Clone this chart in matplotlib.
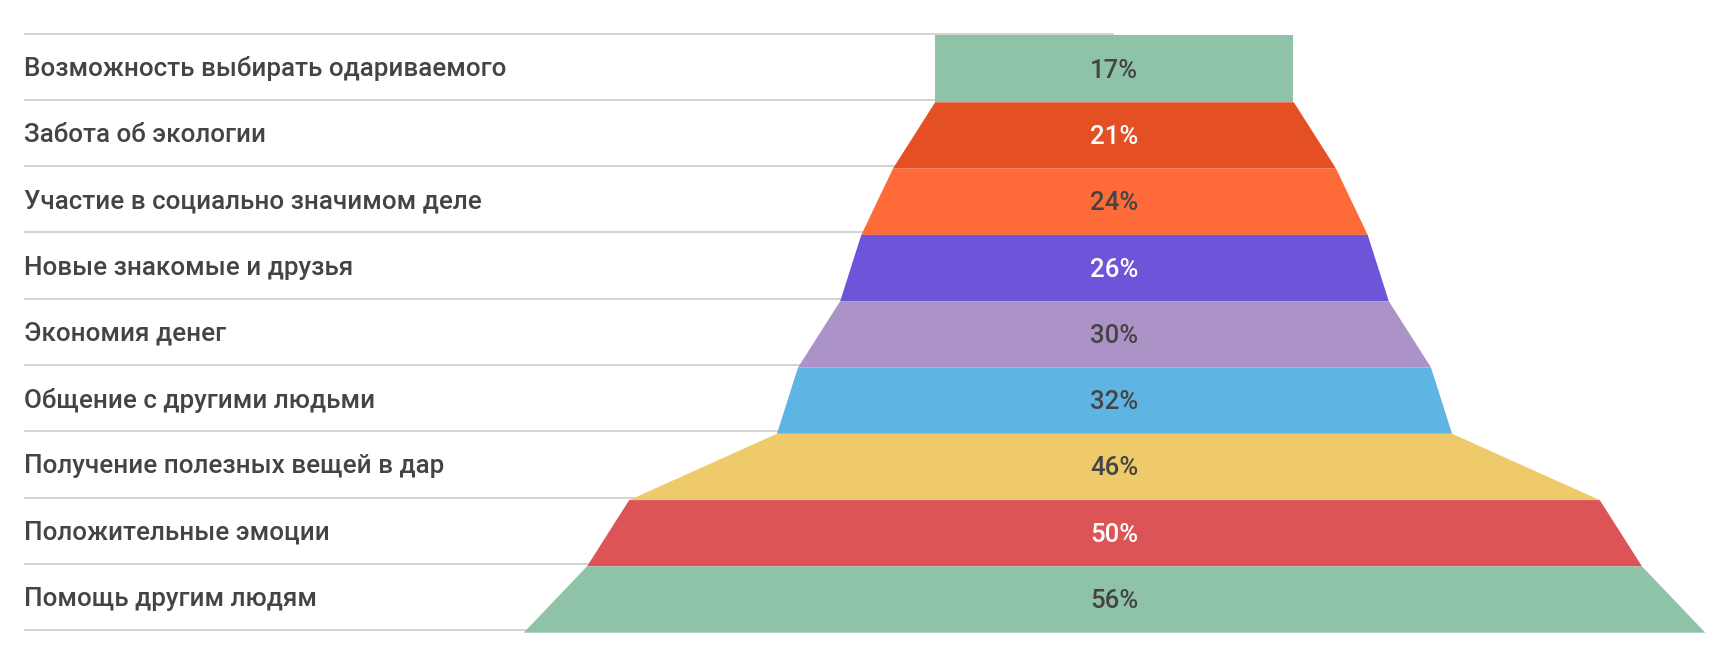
import matplotlib.pyplot as plt
import matplotlib.transforms as mtransforms

labels = [
    "Возможность выбирать одариваемого",
    "Забота об экологии",
    "Участие в социально значимом деле",
    "Новые знакомые и друзья",
    "Экономия денег",
    "Общение с другими людьми",
    "Получение полезных вещей в дар",
    "Положительные эмоции",
    "Помощь другим людям",
]
values = [17, 21, 24, 26, 30, 32, 46, 50, 56]
colors = ["#8fc3a8", "#e44f24", "#fe6b38", "#6e54d9", "#ab92c7",
          "#5eb5e3", "#efca6a", "#dc5456", "#8fc3a8"]
text_colors = ["#444444", "#ffffff", "#444444", "#ffffff", "#444444",
               "#444444", "#444444", "#ffffff", "#444444"]

plt.rcParams['font.family'] = ['Roboto', 'DejaVu Sans']

W, H = 1730, 664
px_per_pct = 21.1
center_px = 1114
row_px = 66.3
top_px = 33.5

fig = plt.figure(figsize=(W / 100, H / 100), dpi=100)
ax = fig.add_axes([0, 0, 1, 1])
ax.set_xlim(-center_px / px_per_pct, (W - center_px) / px_per_pct)
ax.set_ylim(9 + (H - top_px - 9 * row_px) / row_px, -top_px / row_px)
ax.axis('off')

# row separator lines (left part, funnel hides the rest)
label_x = 24 / W
trans = mtransforms.blended_transform_factory(ax.transAxes, ax.transData)
for i in range(len(values) + 1):
    ax.plot([label_x, center_px / W], [i, i], color="#d0d0d0", lw=1.3,
            transform=trans, zorder=1, solid_capstyle='butt')

off = 0.03
prev = values[0]
for i, (v, c) in enumerate(zip(values, colors)):
    ax.fill_betweenx([i + off, i + 1 + off], [-prev / 2, -v / 2], [prev / 2, v / 2],
                     color=c, lw=0, zorder=2)
    ax.text(0, i + 0.53 + off, f"{v}%", ha='center', va='center',
            fontsize=18.5, fontweight='medium', color=text_colors[i], zorder=3)
    ax.text(label_x, i + 0.53, labels[i], ha='left', va='center',
            fontsize=18.7, fontweight='medium', color="#444444", transform=trans)
    prev = v

fig.savefig("out.png", dpi=100)
